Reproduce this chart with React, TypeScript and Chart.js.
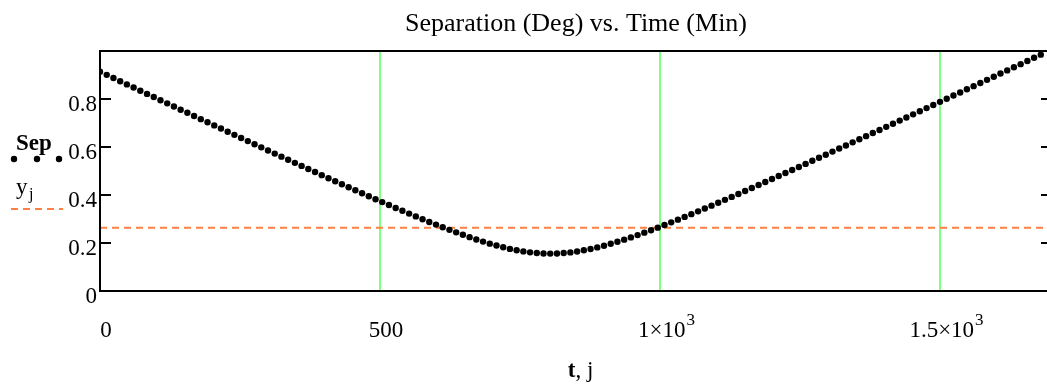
import React, { useEffect, useRef } from "react";
import { Chart, registerables } from "chart.js";

Chart.register(...registerables);

// ---- data ----
const timeMin = [
  0, 12, 24, 36, 48, 60, 72, 84, 96, 108, 120, 132, 144, 156, 168, 180, 192, 204, 216, 228,
  240, 252, 264, 276, 288, 300, 312, 324, 336, 348, 360, 372, 384, 396, 408, 420, 432, 444, 456, 468,
  480, 492, 504, 516, 528, 540, 552, 564, 576, 588, 600, 612, 624, 636, 648, 660, 672, 684, 696, 708,
  720, 732, 744, 756, 768, 780, 792, 804, 816, 828, 840, 852, 864, 876, 888, 900, 912, 924, 936, 948,
  960, 972, 984, 996, 1008, 1020, 1032, 1044, 1056, 1068, 1080, 1092, 1104, 1116, 1128, 1140, 1152, 1164, 1176, 1188,
  1200, 1212, 1224, 1236, 1248, 1260, 1272, 1284, 1296, 1308, 1320, 1332, 1344, 1356, 1368, 1380, 1392, 1404, 1416, 1428,
  1440, 1452, 1464, 1476, 1488, 1500, 1512, 1524, 1536, 1548, 1560, 1572, 1584, 1596, 1608, 1620, 1632, 1644, 1656, 1668,
  1680,
];

const sepDeg = [
  0.9139, 0.9006, 0.8874, 0.8742, 0.8609, 0.8478, 0.8345, 0.8213, 0.8082, 0.7949,
  0.7818, 0.7686, 0.7554, 0.7424, 0.7292, 0.7161, 0.7029, 0.6899, 0.6768, 0.6637,
  0.6506, 0.6376, 0.6246, 0.6116, 0.5986, 0.5857, 0.5726, 0.5597, 0.5469, 0.5339,
  0.5212, 0.5083, 0.4956, 0.4828, 0.4701, 0.4575, 0.4449, 0.4323, 0.4198, 0.4073,
  0.395, 0.3826, 0.3704, 0.3583, 0.3461, 0.3342, 0.3225, 0.3108, 0.2992, 0.2878,
  0.2766, 0.2655, 0.2548, 0.2443, 0.2341, 0.2243, 0.2147, 0.2059, 0.1972, 0.1895,
  0.1822, 0.1755, 0.1697, 0.1649, 0.161, 0.1582, 0.1565, 0.1559, 0.1565, 0.1581,
  0.1609, 0.1647, 0.1695, 0.1752, 0.1816, 0.1888, 0.1966, 0.205, 0.2139, 0.2233,
  0.233, 0.2431, 0.2534, 0.264, 0.2749, 0.286, 0.2972, 0.3087, 0.3202, 0.3319,
  0.3437, 0.3557, 0.3677, 0.3798, 0.392, 0.4042, 0.4165, 0.4289, 0.4414, 0.4539,
  0.4664, 0.479, 0.4916, 0.5042, 0.5169, 0.5296, 0.5424, 0.5551, 0.5679, 0.5808,
  0.5936, 0.6065, 0.6193, 0.6322, 0.6452, 0.6581, 0.671, 0.684, 0.697, 0.71,
  0.723, 0.736, 0.749, 0.762, 0.7751, 0.7881, 0.8012, 0.8143, 0.8273, 0.8404,
  0.8535, 0.8666, 0.8797, 0.8928, 0.906, 0.9191, 0.9322, 0.9453, 0.9585, 0.9716,
  0.9848,
];

const refJ = [0, 1700];
const refY = [0.264, 0.264];

const xMin = 0;
const xMax = 1700;
const yMin = 0;
const yMax = 1;

const xGridValues = [500, 1000, 1500];
const xTickValues = [0, 500, 1000, 1500];
const xTickMain = ["0", "500", "1×10", "1.5×10"];
const xTickSup = ["", "", "3", "3"];
const yTickValues = [0, 0.2, 0.4, 0.6, 0.8];
const yTickLabels = ["0", "0.2", "0.4", "0.6", "0.8"];

const titleText = "Separation (Deg) vs. Time (Min)";
const seriesName = "Sep";

const SERIF = '"Liberation Serif", "Times New Roman", serif';
const DOT_R = 3.2;

const decorPlugin = {
  id: "mathcadDecor",
  beforeDatasetsDraw(chart: any) {
    const { ctx, chartArea: a, scales } = chart;
    const x = scales.x;
    ctx.save();
    ctx.strokeStyle = "#80ff80";
    ctx.lineWidth = 2;
    for (const v of xGridValues) {
      const px = Math.round(x.getPixelForValue(v));
      ctx.beginPath();
      ctx.moveTo(px, a.top);
      ctx.lineTo(px, a.bottom);
      ctx.stroke();
    }
    ctx.restore();
  },
  afterDatasetsDraw(chart: any) {
    const { ctx, chartArea: a, scales } = chart;
    const x = scales.x;
    const y = scales.y;
    ctx.save();
    // frame
    ctx.strokeStyle = "#000";
    ctx.lineWidth = 2;
    ctx.beginPath();
    ctx.rect(a.left, a.top, a.right - a.left, a.bottom - a.top);
    ctx.stroke();
    // inward y ticks on both sides
    for (const v of yTickValues) {
      const py = Math.round(y.getPixelForValue(v));
      ctx.beginPath();
      ctx.moveTo(a.left, py);
      ctx.lineTo(a.left + 11, py);
      ctx.moveTo(a.right, py);
      ctx.lineTo(a.right - 11, py);
      ctx.stroke();
    }
    ctx.fillStyle = "#000";
    // y tick labels
    ctx.font = `23px ${SERIF}`;
    ctx.textAlign = "right";
    ctx.textBaseline = "alphabetic";
    yTickValues.forEach((v, i) => {
      const py = y.getPixelForValue(v);
      ctx.fillText(yTickLabels[i], a.left - 3, py + 12);
    });
    // x tick labels
    ctx.textAlign = "left";
    xTickValues.forEach((v, i) => {
      const px = x.getPixelForValue(v);
      ctx.font = `23px ${SERIF}`;
      const wm = ctx.measureText(xTickMain[i]).width;
      ctx.font = `17px ${SERIF}`;
      const ws = xTickSup[i] ? ctx.measureText(xTickSup[i]).width : 0;
      const x0 = px + 6 - (wm + ws) / 2;
      ctx.font = `23px ${SERIF}`;
      ctx.fillText(xTickMain[i], x0, 337);
      if (xTickSup[i]) {
        ctx.font = `17px ${SERIF}`;
        ctx.fillText(xTickSup[i], x0 + wm + 1, 325);
      }
    });
    // title
    ctx.font = `26px ${SERIF}`;
    ctx.textAlign = "center";
    ctx.fillText(titleText, (a.left + a.right) / 2, 31);
    // x axis title "t, j"
    ctx.textAlign = "left";
    ctx.font = `bold 23px ${SERIF}`;
    const wt = ctx.measureText("t").width;
    ctx.font = `23px ${SERIF}`;
    const wr = ctx.measureText(", j").width;
    const xs = 580.5 - (wt + wr) / 2;
    ctx.font = `bold 23px ${SERIF}`;
    ctx.fillText("t", xs, 377);
    ctx.font = `23px ${SERIF}`;
    ctx.fillText(", j", xs + wt, 377);
    // left legend
    ctx.font = `bold 23px ${SERIF}`;
    ctx.fillText(seriesName, 16, 149.5);
    for (const dx of [14, 37, 59]) {
      ctx.beginPath();
      ctx.arc(dx, 159, DOT_R, 0, Math.PI * 2);
      ctx.fill();
    }
    ctx.font = `23px ${SERIF}`;
    ctx.fillText("y", 16, 194);
    ctx.font = `16px ${SERIF}`;
    ctx.fillText("j", 29, 199);
    ctx.strokeStyle = "#ff8040";
    ctx.lineWidth = 2;
    ctx.setLineDash([7, 5]);
    ctx.beginPath();
    ctx.moveTo(11, 209);
    ctx.lineTo(63, 209);
    ctx.stroke();
    ctx.restore();
  },
};

export default function App() {
  const ref = useRef<HTMLCanvasElement | null>(null);

  useEffect(() => {
    if (!ref.current) return;
    const chart = new Chart(ref.current, {
      type: "scatter",
      data: {
        datasets: [
          {
            label: seriesName,
            data: timeMin.map((t, i) => ({ x: t, y: sepDeg[i] })),
            pointRadius: DOT_R,
            pointBorderWidth: 0,
            pointBackgroundColor: "#000",
            backgroundColor: "#000",
            borderColor: "#000",
            showLine: false,
            clip: 0,
            order: 0,
          },
          {
            label: "y",
            data: refJ.map((j, i) => ({ x: j, y: refY[i] })),
            showLine: true,
            pointRadius: 0,
            borderColor: "#ff8040",
            borderWidth: 2,
            borderDash: [7, 5],
            order: 1,
          },
        ],
      },
      options: {
        animation: false,
        responsive: false,
        devicePixelRatio: 1,
        layout: { padding: { left: 100, top: 51, right: 8, bottom: 94 } },
        plugins: {
          legend: { display: false },
          title: { display: false },
          tooltip: { enabled: false },
        },
        scales: {
          x: { type: "linear", min: xMin, max: xMax, display: false },
          y: { type: "linear", min: yMin, max: yMax, display: false },
        },
      },
      plugins: [decorPlugin],
    });
    return () => chart.destroy();
  }, []);

  return (
    <div
      style={{
        position: "fixed",
        left: 0,
        top: 0,
        width: 1047,
        height: 385,
        overflow: "hidden",
        background: "#fff",
      }}
    >
      <canvas ref={ref} width={1060} height={385} style={{ display: "block", width: 1060, height: 385 }} />
    </div>
  );
}
